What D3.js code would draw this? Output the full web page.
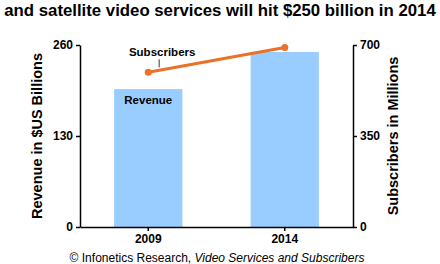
<!DOCTYPE html>
<html>
<head>
<meta charset="utf-8">
<script src="https://cdn.jsdelivr.net/npm/d3@7"></script>
<style>
  body { margin: 0; background: #fff; }
  svg { display: block; font-family: 'Liberation Sans', Arial, sans-serif; }
  .axis path, .axis line { stroke: #000; stroke-width: 1.5; }
  .axis text { font-size: 12px; font-weight: bold; fill: #000; }
</style>
</head>
<body>
<div id="chart"></div>
<script>
let years = ['2009', '2014']
let revenue = [197, 250]
let subscribers = [595, 690]
let revenueTicks = [0, 130, 260]
let subscriberTicks = [0, 350, 700]

let width = 440
let height = 264
let margin = { top: 45, left: 80, right: 87, bottom: 37 }

let svg = d3
  .select('#chart')
  .append('svg')
  .attr('width', width)
  .attr('height', height)

let xPositionScale = d3
  .scaleBand()
  .domain(years)
  .range([margin.left, width - margin.right])
  .paddingInner(0.5)
  .paddingOuter(0.25)

let yLeft = d3
  .scaleLinear()
  .domain([0, 260])
  .range([height - margin.bottom, margin.top])

let yRight = d3
  .scaleLinear()
  .domain([0, 700])
  .range([height - margin.bottom, margin.top])

// title (the first line is cut off at the top)
let title = svg
  .append('text')
  .attr('x', width / 2)
  .attr('y', 16)
  .attr('text-anchor', 'middle')
  .attr('font-size', 16)
  .attr('font-weight', 'bold')
  .text('and satellite video services will hit $250 billion in 2014')

// fit the title to the width it takes in the original
let titleWidth = title.node().getComputedTextLength()
title.attr('font-size', Math.min(17, (16 * 432) / titleWidth))

// bars
svg
  .selectAll('.bar')
  .data(years)
  .enter()
  .append('rect')
  .attr('class', 'bar')
  .attr('x', d => xPositionScale(d))
  .attr('width', xPositionScale.bandwidth())
  .attr('y', (d, i) => yLeft(revenue[i]))
  .attr('height', (d, i) => yLeft(0) - yLeft(revenue[i]))
  .attr('fill', '#99ccff')

svg
  .append('text')
  .attr('x', xPositionScale(years[0]) + xPositionScale.bandwidth() / 2)
  .attr('y', yLeft(revenue[0]) + 15)
  .attr('text-anchor', 'middle')
  .attr('font-size', 11.5)
  .attr('font-weight', 'bold')
  .text('Revenue')

// subscribers line
let points = years.map((d, i) => [
  xPositionScale(d) + xPositionScale.bandwidth() / 2,
  yRight(subscribers[i])
])

svg
  .append('path')
  .attr('d', d3.line()(points))
  .attr('stroke', '#ea7125')
  .attr('stroke-width', 3)
  .attr('fill', 'none')

svg
  .selectAll('.dot')
  .data(points)
  .enter()
  .append('circle')
  .attr('class', 'dot')
  .attr('cx', d => d[0])
  .attr('cy', d => d[1])
  .attr('r', 3.5)
  .attr('fill', '#ea7125')

let labelX = points[0][0] + 0.08 * (points[1][0] - points[0][0])
let labelY = points[0][1] + 0.08 * (points[1][1] - points[0][1])

svg
  .append('line')
  .attr('x1', labelX)
  .attr('x2', labelX)
  .attr('y1', labelY - 3)
  .attr('y2', labelY - 11)
  .attr('stroke', '#000')
  .attr('stroke-width', 0.8)

svg
  .append('text')
  .attr('x', labelX + 3)
  .attr('y', labelY - 14)
  .attr('text-anchor', 'middle')
  .attr('font-size', 11.5)
  .attr('font-weight', 'bold')
  .text('Subscribers')

// axes
let xAxis = d3.axisBottom(xPositionScale).tickSize(4).tickSizeOuter(0)
svg
  .append('g')
  .attr('class', 'axis x-axis')
  .attr('transform', 'translate(0,' + (height - margin.bottom) + ')')
  .call(xAxis)

let leftAxis = d3.axisLeft(yLeft).tickValues(revenueTicks).tickSize(4).tickSizeOuter(0)
svg
  .append('g')
  .attr('class', 'axis y-axis')
  .attr('transform', 'translate(' + margin.left + ',0)')
  .call(leftAxis)

let rightAxis = d3.axisRight(yRight).tickValues(subscriberTicks).tickSize(4).tickSizeOuter(0)
svg
  .append('g')
  .attr('class', 'axis y-axis-right')
  .attr('transform', 'translate(' + (width - margin.right) + ',0)')
  .call(rightAxis)

// axis titles
svg
  .append('text')
  .attr('transform', 'translate(42,' + (margin.top + height - margin.bottom) / 2 + ') rotate(-90)')
  .attr('text-anchor', 'middle')
  .attr('font-size', 14.5)
  .attr('font-weight', 'bold')
  .text('Revenue in $US Billions')

svg
  .append('text')
  .attr('transform', 'translate(398,' + (margin.top + height - margin.bottom) / 2 + ') rotate(-90)')
  .attr('text-anchor', 'middle')
  .attr('font-size', 14.5)
  .attr('font-weight', 'bold')
  .text('Subscribers in Millions')

// source line
let source = svg
  .append('text')
  .attr('x', width / 2 - 3)
  .attr('y', 262)
  .attr('text-anchor', 'middle')
  .attr('font-size', 12)

source.append('tspan').text('\u00a9 Infonetics Research, ')
source
  .append('tspan')
  .attr('font-style', 'italic')
  .text('Video Services and Subscribers')
</script>
</body>
</html>
